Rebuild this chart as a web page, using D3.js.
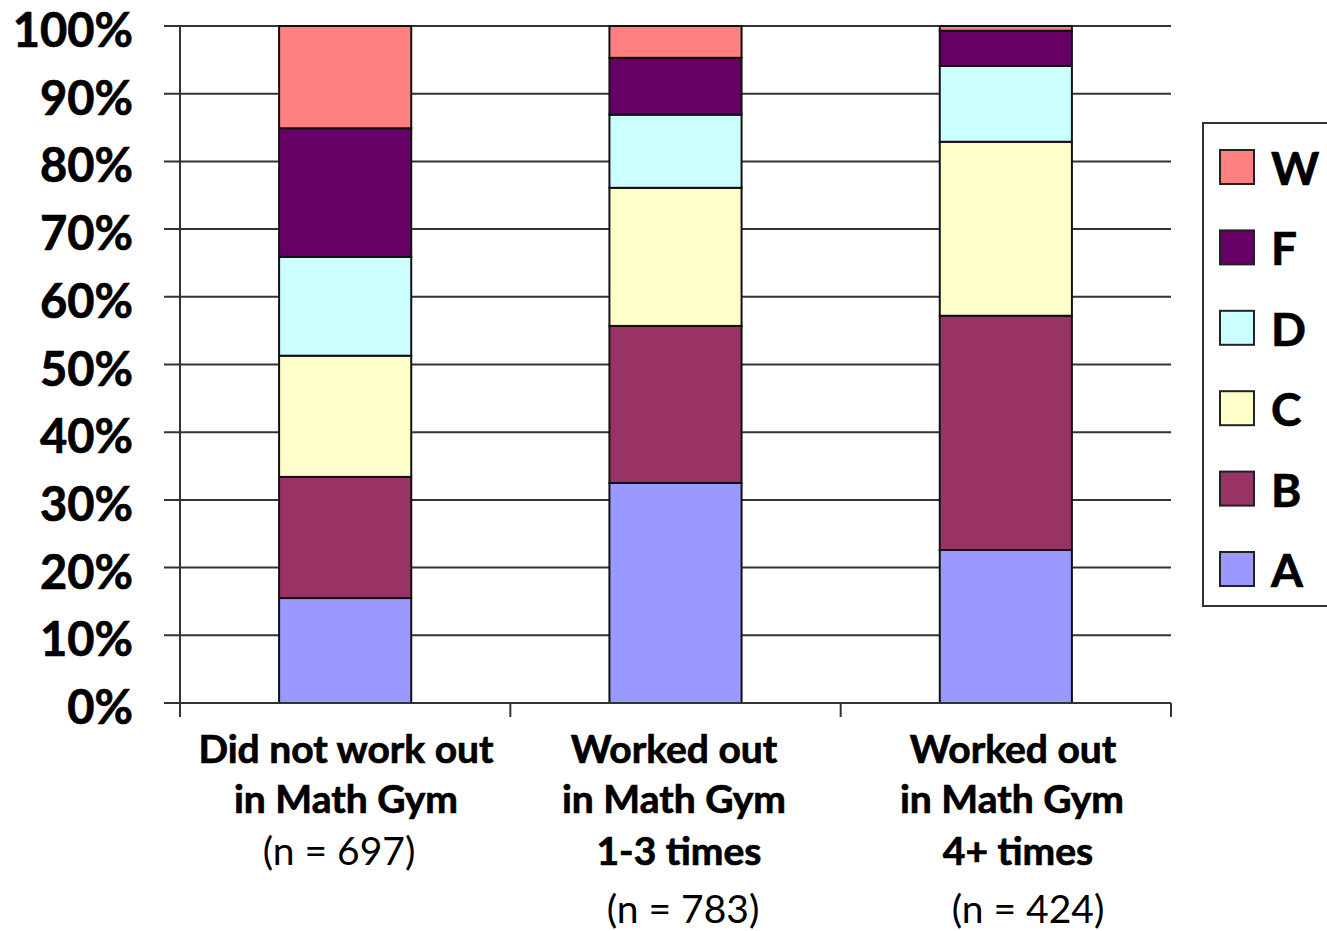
<!DOCTYPE html>
<html>
<head>
<meta charset="utf-8">
<script src="https://cdn.jsdelivr.net/npm/d3@7"></script>
<style>
  html, body { margin: 0; padding: 0; background: #fff; }
  svg { display: block; }
  text { font-family: Lato, "Open Sans", sans-serif; fill: #000; }
  text.heavy { stroke: #000; stroke-width: 0.7px; }
</style>
</head>
<body>
<svg id="chart" width="1327" height="931"></svg>
<script>
// Grade distribution by Math Gym attendance (percent of students)
const categories = ["g0", "g1", "g2"];
const categoryLines = [
  [["Did not work out", "bold"], ["in Math Gym", "bold"], ["(n = 697)", "normal"]],
  [["Worked out", "bold"], ["in Math Gym", "bold"], ["1-3 times", "bold"], ["(n = 783)", "normal"]],
  [["Worked out", "bold"], ["in Math Gym", "bold"], ["4+ times", "bold"], ["(n = 424)", "normal"]]
];
const grades = ["A", "B", "C", "D", "F", "W"];
const gradeA = [15.5, 32.5, 22.6];
const gradeB = [17.9, 23.2, 34.6];
const gradeC = [17.9, 20.4, 25.7];
const gradeD = [14.6, 10.8, 11.2];
const gradeF = [19.0, 8.4, 5.2];
const gradeW = [15.1, 4.7, 0.7];
const yTicks = [0, 10, 20, 30, 40, 50, 60, 70, 80, 90, 100];
const colors = ["#9999FF", "#993366", "#FFFFCC", "#CCFFFF", "#660066", "#FF8080"];

const series = [gradeA, gradeB, gradeC, gradeD, gradeF, gradeW];
const rows = categories.map((c, i) => {
  const r = { cat: c };
  grades.forEach((g, j) => { r[g] = series[j][i]; });
  return r;
});

const svg = d3.select("#chart");
const plotLeft = 180, plotRight = 1171, plotTop = 26, plotBottom = 703;

const x = d3.scaleBand().domain(categories).range([plotLeft, plotRight]).paddingInner(0.6).paddingOuter(0.3);
const xEdges = d3.scaleLinear().domain([0, categories.length]).range([plotLeft, plotRight]);
const y = d3.scaleLinear().domain([0, 100]).range([plotBottom, plotTop]);

// horizontal gridlines
svg.append("g")
  .selectAll("line")
  .data(yTicks)
  .join("line")
  .attr("x1", plotLeft - 16).attr("x2", plotRight)
  .attr("y1", d => y(d)).attr("y2", d => y(d))
  .attr("stroke", "#333").attr("stroke-width", 2);

// y axis line
svg.append("line")
  .attr("x1", plotLeft).attr("x2", plotLeft)
  .attr("y1", plotTop).attr("y2", plotBottom)
  .attr("stroke", "#333").attr("stroke-width", 2);

// category divider ticks under the baseline
svg.append("g")
  .selectAll("line")
  .data(d3.range(categories.length + 1))
  .join("line")
  .attr("x1", d => xEdges(d)).attr("x2", d => xEdges(d))
  .attr("y1", plotBottom).attr("y2", plotBottom + 14)
  .attr("stroke", "#333").attr("stroke-width", 2);

// y tick labels
svg.append("g")
  .selectAll("text")
  .data(yTicks)
  .join("text")
  .attr("class", "heavy")
  .attr("x", 133)
  .attr("y", d => y(d) + 21)
  .attr("text-anchor", "end")
  .attr("font-size", 47)
  .attr("font-weight", "bold")
  .text(d => d + "%");

// stacked bars
const stack = d3.stack().keys(grades)(rows);
svg.append("g")
  .selectAll("g")
  .data(stack)
  .join("g")
  .attr("fill", (d, i) => colors[i])
  .selectAll("rect")
  .data(d => d)
  .join("rect")
  .attr("x", d => x(d.data.cat))
  .attr("width", x.bandwidth())
  .attr("y", d => y(d[1]))
  .attr("height", d => y(d[0]) - y(d[1]))
  .attr("stroke", "#111").attr("stroke-width", 2);

// baseline drawn over the bars
svg.append("line")
  .attr("x1", plotLeft - 16).attr("x2", plotRight)
  .attr("y1", plotBottom).attr("y2", plotBottom)
  .attr("stroke", "#333").attr("stroke-width", 2);

// category labels (each line centred on its own x)
const lineY = [[763, 813, 865], [763, 813, 865, 923], [763, 813, 865, 923]];
const lineX = [[346, 346, 339], [674, 674, 679, 683], [1013, 1012, 1018, 1028]];
categoryLines.forEach((lines, i) => {
  lines.forEach((ln, k) => {
    svg.append("text")
      .attr("class", ln[1] === "bold" ? "heavy" : null)
      .attr("x", lineX[i][k])
      .attr("y", lineY[i][k])
      .attr("text-anchor", "middle")
      .attr("font-size", 39)
      .attr("font-weight", ln[1])
      .text(ln[0]);
  });
});

// legend
const legend = svg.append("g");
legend.append("rect")
  .attr("x", 1203).attr("y", 123).attr("width", 140).attr("height", 483)
  .attr("fill", "#fff").attr("stroke", "#333").attr("stroke-width", 2);
const legendOrder = grades.slice().reverse();
const legendItems = legend.selectAll("g.item")
  .data(legendOrder)
  .join("g")
  .attr("class", "item")
  .attr("transform", (d, i) => `translate(1220, ${150 + i * 80.4})`);
legendItems.append("rect")
  .attr("width", 34).attr("height", 34)
  .attr("fill", d => colors[grades.indexOf(d)])
  .attr("stroke", "#222").attr("stroke-width", 2);
legendItems.append("text")
  .attr("class", "heavy")
  .attr("x", 51).attr("y", 35)
  .attr("font-size", 46)
  .attr("font-weight", "bold")
  .text(d => d);
</script>
</body>
</html>
